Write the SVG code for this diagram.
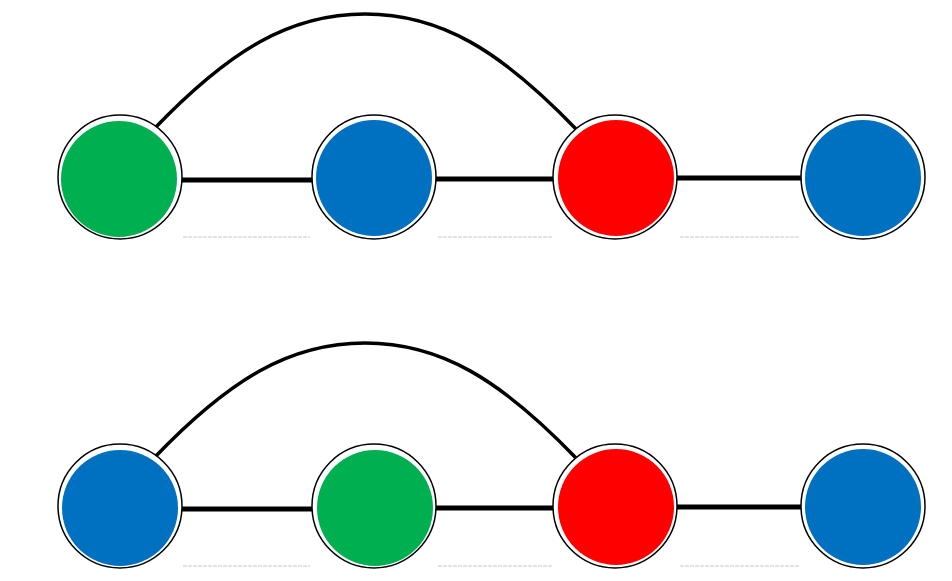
<svg xmlns="http://www.w3.org/2000/svg" width="952" height="581" viewBox="0 0 952 581">
<style>
.ring{fill:#fff;stroke:#000;stroke-width:1.5}
.g{fill:#00B050}.b{fill:#0070C0}.r{fill:#FF0000}
.edge{stroke:#000;stroke-width:5;fill:none}
.arc{stroke:#000;stroke-width:3.5;fill:none}
.faint{stroke:#c8c8c8;stroke-width:1;stroke-dasharray:4 1}
</style>
<rect width="952" height="581" fill="#fff"/>
<g id="connectors">
<path class="arc" d="M155,128 C230,50 290,14 365,14 C440,14 500,50 576,129"/>
<line class="edge" x1="180" y1="180" x2="315" y2="180"/>
<line class="edge" x1="434" y1="179" x2="556" y2="179"/>
<line class="edge" x1="676" y1="178" x2="806" y2="178"/>
<path class="arc" d="M155,457 C230,379 290,343 365,343 C440,343 500,379 576,458"/>
<line class="edge" x1="180" y1="509" x2="315" y2="509"/>
<line class="edge" x1="434" y1="508" x2="556" y2="508"/>
<line class="edge" x1="676" y1="507" x2="806" y2="507"/>
</g>
<g id="faint">
<line class="faint" x1="183" y1="237" x2="310" y2="237"/>
<line class="faint" x1="438" y1="237" x2="552" y2="237"/>
<line class="faint" x1="680" y1="237" x2="800" y2="237"/>
<line class="faint" x1="183" y1="566" x2="310" y2="566"/>
<line class="faint" x1="438" y1="566" x2="552" y2="566"/>
<line class="faint" x1="680" y1="566" x2="800" y2="566"/>
</g>
<g id="n1"><circle class="ring" cx="120" cy="177" r="62"/><circle class="g" cx="119" cy="179" r="58"/></g>
<g id="n2"><circle class="ring" cx="374" cy="177" r="62"/><circle class="b" cx="374" cy="178" r="58"/></g>
<g id="n3"><circle class="ring" cx="615" cy="177" r="62"/><circle class="r" cx="616" cy="178" r="58"/></g>
<g id="n4"><circle class="ring" cx="863" cy="177" r="62"/><circle class="b" cx="863" cy="178" r="58"/></g>
<g id="n5"><circle class="ring" cx="120" cy="506" r="62"/><circle class="b" cx="120" cy="508" r="58"/></g>
<g id="n6"><circle class="ring" cx="374" cy="506" r="62"/><circle class="g" cx="375" cy="508" r="58"/></g>
<g id="n7"><circle class="ring" cx="615" cy="506" r="62"/><circle class="r" cx="616" cy="507" r="58"/></g>
<g id="n8"><circle class="ring" cx="863" cy="506" r="62"/><circle class="b" cx="863" cy="507" r="58"/></g>
</svg>
